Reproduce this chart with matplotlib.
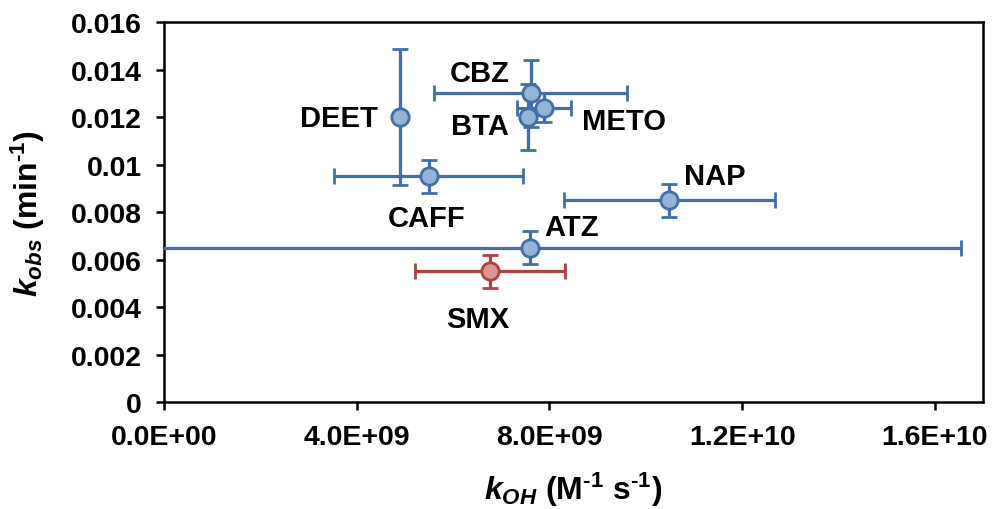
import matplotlib
matplotlib.use("Agg")
import matplotlib.pyplot as plt
from matplotlib.ticker import FuncFormatter, MultipleLocator

plt.rcParams['font.family'] = ['Liberation Sans', 'DejaVu Sans']
plt.rcParams['font.weight'] = 'bold'
plt.rcParams['mathtext.fontset'] = 'custom'
plt.rcParams['mathtext.rm'] = 'Liberation Sans:bold'
plt.rcParams['mathtext.it'] = 'Liberation Sans:bold:italic'
plt.rcParams['mathtext.bf'] = 'Liberation Sans:bold'

# Data
compounds = ['CBZ', 'DEET', 'BTA', 'METO', 'CAFF', 'NAP', 'ATZ', 'SMX']
k_oh = [7.61e9, 4.9e9, 7.56e9, 7.89e9, 5.49e9, 1.049e10, 7.59e9, 6.77e9]
k_oh_err = [2.0e9, 0.0, 0.0, 0.56e9, 1.97e9, 2.19e9, 8.95e9, 1.55e9]
k_obs = [0.0130, 0.0120, 0.0120, 0.0124, 0.0095, 0.0085, 0.0065, 0.0055]
k_obs_err = [0.0014, 0.00285, 0.0014, 0.0006, 0.0007, 0.0007, 0.0007, 0.0007]
highlight = ['SMX']

# label offsets (points) relative to each marker
label_offsets = {
    'CBZ': (-36.5, 14.6), 'DEET': (-44, -0.7), 'BTA': (-35, -6.5),
    'METO': (57.6, -9.4), 'CAFF': (-1.4, -30), 'NAP': (33, 17.5),
    'ATZ': (30.5, 15), 'SMX': (-8.6, -34.6),
}

blue_line, blue_face = '#3F6FA6', '#95B3D7'
red_line, red_face = '#B0413E', '#DA9694'

fig = plt.figure(figsize=(9.97, 5.10), dpi=100)
ax = fig.add_axes([0.1645, 0.2098, 0.8215, 0.745])

for name, x, xe, y, ye in zip(compounds, k_oh, k_oh_err, k_obs, k_obs_err):
    if name in highlight:
        lc, fc = red_line, red_face
    else:
        lc, fc = blue_line, blue_face
    ax.errorbar(x, y, xerr=xe if xe > 0 else None, yerr=ye, fmt='o',
                color=lc, ecolor=lc, elinewidth=2.3, capsize=6, capthick=2.3,
                markersize=12.5, markerfacecolor=fc, markeredgecolor=lc,
                markeredgewidth=2.0, zorder=3)
    dx, dy = label_offsets[name]
    ax.annotate(name, (x, y), xytext=(dx, dy), textcoords='offset points',
                ha='center', va='center', fontsize=21, fontweight='bold',
                color='black', zorder=4)

ax.set_xlim(0, 1.7e10)
ax.set_ylim(0, 0.016)
ax.xaxis.set_major_locator(MultipleLocator(4e9))
ax.yaxis.set_major_locator(MultipleLocator(0.002))
ax.xaxis.set_major_formatter(FuncFormatter(lambda v, p: f"{v:.1E}"))
ax.yaxis.set_major_formatter(FuncFormatter(lambda v, p: format(round(v, 4), 'g')))

for s in ax.spines.values():
    s.set_linewidth(1.8)
    s.set_color('black')
ax.tick_params(axis='both', which='major', direction='out', length=6, width=1.8,
               labelsize=20.5)
ax.tick_params(axis='x', pad=10)
ax.tick_params(axis='y', pad=10)
for lbl in ax.get_xticklabels() + ax.get_yticklabels():
    lbl.set_fontweight('bold')

ax.set_xlabel('$k_{OH}$ (M$^{\u20101}$ s$^{\u20101}$)', fontsize=23,
              fontweight='bold', labelpad=14)
ax.set_ylabel('$k_{obs}$ (min$^{\u20101}$)', fontsize=23,
              fontweight='bold', labelpad=17)

fig.savefig('out.png', dpi=100)
